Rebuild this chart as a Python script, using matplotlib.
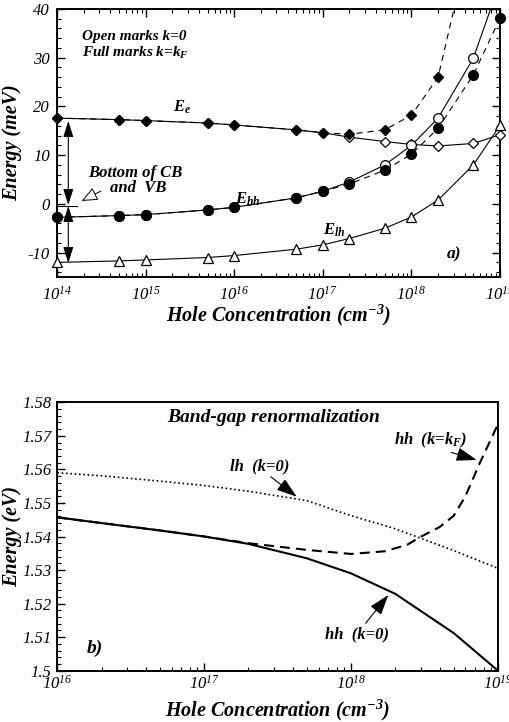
import numpy as np
import matplotlib
matplotlib.use("Agg")
import matplotlib.pyplot as plt
from matplotlib.ticker import LogLocator, NullFormatter, MultipleLocator

plt.rcParams['font.family'] = ['Liberation Serif', 'DejaVu Serif']
plt.rcParams['mathtext.default'] = 'regular'
plt.rcParams['axes.unicode_minus'] = False

# ---------------- data: panel a ----------------
conc_a = [1e14, 5e14, 1e15, 5e15, 1e16, 5e16, 1e17, 2e17, 5e17, 1e18, 2e18, 5e18, 1e19]
Ee_k0  = [17.6, 17.3, 17.1, 16.6, 16.2, 15.2, 14.6, 13.7, 12.8, 12.2, 11.9, 12.4, 14.2]
Ee_kF  = [17.6, 17.3, 17.1, 16.6, 16.2, 15.2, 14.6, 14.3, 15.2, 18.2, 26.0, 57.0, np.nan]
Ehh_k0 = [-2.75, -2.4, -2.2, -1.24, -0.7, 1.24, 2.6, 4.5, 8.0, 12.0, 17.6, 29.9, 45.5]
Ehh_kF = [-2.75, -2.4, -2.2, -1.24, -0.7, 1.24, 2.6, 4.1, 6.9, 10.2, 15.5, 26.5, 38.1]
Elh_k0 = [-12.0, -11.7, -11.5, -11.0, -10.6, -9.3, -8.4, -7.1, -5.0, -2.7, 0.8, 8.0, 16.1]
xticks_a = [1e14, 1e15, 1e16, 1e17, 1e18, 1e19]
xticklabels_a = [r'$10^{14}$', r'$10^{15}$', r'$10^{16}$', r'$10^{17}$', r'$10^{18}$', r'$10^{19}$']
yticks_a = [-10, 0, 10, 20, 30, 40]

# ---------------- data: panel b ----------------
conc_b = [1e16, 2e16, 5e16, 1e17, 2e17, 5e17, 1e18, 2e18, 5e18, 1e19]
hh_k0  = [1.5457, 1.5440, 1.5418, 1.5400, 1.5378, 1.5335, 1.5290, 1.5229, 1.5112, 1.5000]
lh_k0  = [1.5590, 1.5581, 1.5565, 1.5552, 1.5535, 1.5507, 1.5462, 1.5423, 1.5358, 1.5305]
conc_b2 = [1e16, 2e16, 5e16, 1e17, 2e17, 5e17, 1e18, 1.7e18, 2.4e18, 3e18, 4e18, 5e18, 6e18, 7.5e18, 1e19]
hh_kF  = [1.5457, 1.5440, 1.5418, 1.5400, 1.5380, 1.5360, 1.5348, 1.5356, 1.5375, 1.5400, 1.5428, 1.5462, 1.5520, 1.5618, 1.5735]
xticks_b = [1e16, 1e17, 1e18, 1e19]
xticklabels_b = [r'$10^{16}$', r'$10^{17}$', r'$10^{18}$', r'$10^{19}$']
yticks_b = [1.50, 1.51, 1.52, 1.53, 1.54, 1.55, 1.56, 1.57, 1.58]
yticklabels_b = ['1.5', '1.51', '1.52', '1.53', '1.54', '1.55', '1.56', '1.57', '1.58']

W, H = 509, 722
fig = plt.figure(figsize=(W / 100, H / 100), dpi=100)

def P(x, y):
    return (x, H - y)

def F(x, y):
    return (x / W, 1 - y / H)

bi = dict(fontweight='bold', fontstyle='italic')

# ======== panel a ========
ax1 = fig.add_axes([57 / W, 1 - 277 / H, 443 / W, 268 / H])
ax1.set_xscale('log')
ax1.set_xlim(1e14, 1e19)
ax1.set_ylim(-15, 40)

lw = 0.8
ax1.plot(conc_a, Ee_k0, '-', color='black', lw=lw)
ax1.plot(conc_a, Ee_kF, color='black', lw=lw, dashes=(5.5, 4.5))
ax1.plot(conc_a, Ehh_k0, '-', color='black', lw=lw)
ax1.plot(conc_a, Ehh_kF, color='black', lw=lw, dashes=(5.5, 4.5))
ax1.plot(conc_a, Elh_k0, '-', color='black', lw=lw)

def vis(xs, ys):
    pts = [(x, y) for x, y in zip(xs, ys) if np.isfinite(y) and y <= 40.5]
    return [p[0] for p in pts], [p[1] for p in pts]

x, y = vis(conc_a, Ee_k0)
ax1.plot(x, y, 'D', ms=5.5, mfc='white', mec='black', mew=0.9, clip_on=False, zorder=4)
x, y = vis(conc_a, Ehh_k0)
ax1.plot(x, y, 'o', ms=7, mfc='white', mec='black', mew=0.9, clip_on=False, zorder=4)
x, y = vis(conc_a, Elh_k0)
ax1.plot(x, y, '^', ms=6.5, mfc='white', mec='black', mew=0.9, clip_on=False, zorder=4)
x, y = vis(conc_a, Ee_kF)
ax1.plot(x, y, 'D', ms=5.5, mfc='black', mec='black', clip_on=False, zorder=5)
x, y = vis(conc_a, Ehh_kF)
ax1.plot(x, y, 'o', ms=7, mfc='black', mec='black', clip_on=False, zorder=5)

ax1.set_xticks(xticks_a)
ax1.set_xticklabels(xticklabels_a)
ax1.xaxis.set_minor_locator(LogLocator(base=10, subs=np.arange(2, 10)))
ax1.xaxis.set_minor_formatter(NullFormatter())
ax1.set_yticks(yticks_a)
ax1.yaxis.set_minor_locator(MultipleLocator(2))
ax1.tick_params(which='both', direction='in', top=True, right=True)
ax1.tick_params(which='major', length=6, width=1.0)
ax1.tick_params(which='minor', length=3, width=0.8)
ax1.tick_params(axis='x', pad=6)
ax1.tick_params(axis='y', pad=5)
for lab in ax1.get_xticklabels() + ax1.get_yticklabels():
    lab.set_fontstyle('italic'); lab.set_fontsize(12)
for s in ax1.spines.values():
    s.set_linewidth(1.4)

ax1.set_xlabel('Hole Concentration (cm$^{-3}$)', fontsize=14.5, **bi)
ax1.xaxis.set_label_coords(0.5, -0.097)
ax1.set_ylabel('Energy (meV)', fontsize=14.5, **bi)
ax1.yaxis.set_label_coords(-0.079, 0.5)

# texts panel a
fig.text(*F(81.7, 40), 'Open marks k=0', fontsize=11, va='baseline', ha='left', **bi)
fig.text(*F(81.7, 57), 'Full marks k=k$_F$', fontsize=11, va='baseline', ha='left', **bi)
fig.text(*F(173, 112), '$E_e$', fontsize=12, va='baseline', ha='left', **bi)
fig.text(*F(235, 204), '$E_{hh}$', fontsize=12, va='baseline', ha='left', **bi)
fig.text(*F(323, 235), '$E_{lh}$', fontsize=12, va='baseline', ha='left', **bi)
fig.text(*F(454, 254), 'a)', fontsize=12.5, va='center', ha='center', **bi)
fig.text(*F(135, 173), 'Bottom of CB', fontsize=12, va='center', ha='center', **bi)
fig.text(*F(138, 188), 'and  VB', fontsize=12, va='center', ha='center', **bi)

# double arrows and zero line
dbl = dict(arrowstyle='<|-|>,head_length=0.7,head_width=0.22', color='black', lw=0.8,
           shrinkA=0, shrinkB=0, mutation_scale=14)
ax1.annotate('', xy=P(68.3, 121), xytext=P(68.3, 205), xycoords='figure pixels',
             textcoords='figure pixels', arrowprops=dbl)
ax1.annotate('', xy=P(68.3, 206), xytext=P(68.3, 263), xycoords='figure pixels',
             textcoords='figure pixels', arrowprops=dbl)
fig.add_artist(plt.Line2D([58 / W, 77 / W], [1 - 205.5 / H, 1 - 205.5 / H], color='black', lw=0.8))
ax1.annotate('', xy=P(81.7, 201), xytext=P(101, 191), xycoords='figure pixels', textcoords='figure pixels',
             arrowprops=dict(arrowstyle='-|>,head_length=0.7,head_width=0.3', fc='white', ec='black', lw=0.7,
                             shrinkA=0, shrinkB=0, mutation_scale=14))

# ======== panel b ========
ax2 = fig.add_axes([57.3 / W, 1 - 670.7 / H, 440.7 / W, 268.4 / H])
ax2.set_xscale('log')
ax2.set_xlim(1e16, 1e19)
ax2.set_ylim(1.50, 1.58)

ax2.plot(conc_b, hh_k0, '-', color='black', lw=1.5)
ax2.plot(conc_b2, hh_kF, color='black', lw=1.5, dashes=(4.8, 2.9))
ax2.plot(conc_b, lh_k0, color='black', lw=1.2, dashes=(1.0, 1.6))

ax2.set_xticks(xticks_b)
ax2.set_xticklabels(xticklabels_b)
ax2.xaxis.set_minor_locator(LogLocator(base=10, subs=np.arange(2, 10)))
ax2.xaxis.set_minor_formatter(NullFormatter())
ax2.set_yticks(yticks_b)
ax2.set_yticklabels(yticklabels_b)
ax2.yaxis.set_minor_locator(MultipleLocator(0.002))
ax2.tick_params(which='both', direction='in', top=False, right=False)
ax2.tick_params(which='major', length=6, width=1.0)
ax2.tick_params(which='minor', length=3, width=0.8)
ax2.tick_params(axis='x', pad=3)
ax2.tick_params(axis='y', pad=4)
for lab in ax2.get_xticklabels() + ax2.get_yticklabels():
    lab.set_fontstyle('italic'); lab.set_fontsize(12)
for s in ax2.spines.values():
    s.set_linewidth(1.4)

ax2.set_xlabel('Hole Concentration (cm$^{-3}$)', fontsize=14.5, **bi)
ax2.xaxis.set_label_coords(0.5, -0.100)
ax2.set_ylabel('Energy (eV)', fontsize=14.5, **bi)
ax2.yaxis.set_label_coords(-0.079, 0.5)

fig.text(*F(274, 417), 'Band-gap renormalization', fontsize=14, ha='center', va='center', **bi)
fig.text(*F(95, 648), 'b)', fontsize=14, ha='center', va='center', **bi)

arrow_b = dict(arrowstyle='-|>,head_length=0.9,head_width=0.3', color='black', lw=0.8,
               shrinkA=0, shrinkB=0, mutation_scale=14)
ax2.annotate('lh  (k=0)', xy=P(296.7, 496.7), xytext=P(260, 466), xycoords='figure pixels',
             textcoords='figure pixels', ha='center', va='center', fontsize=12, **bi,
             arrowprops=dict(arrow_b, relpos=(0.62, 0.0)))
ax2.annotate('hh  (k=k$_F$)', xy=P(476.7, 460), xytext=P(431, 440), xycoords='figure pixels',
             textcoords='figure pixels', ha='center', va='center', fontsize=12, **bi,
             arrowprops=dict(arrow_b, relpos=(0.65, 0.0)))
ax2.annotate('hh  (k=0)', xy=P(388.3, 595), xytext=P(357, 634), xycoords='figure pixels',
             textcoords='figure pixels', ha='center', va='center', fontsize=12, **bi,
             arrowprops=dict(arrow_b, relpos=(0.6, 1.0)))

fig.savefig('out.png', dpi=100)
